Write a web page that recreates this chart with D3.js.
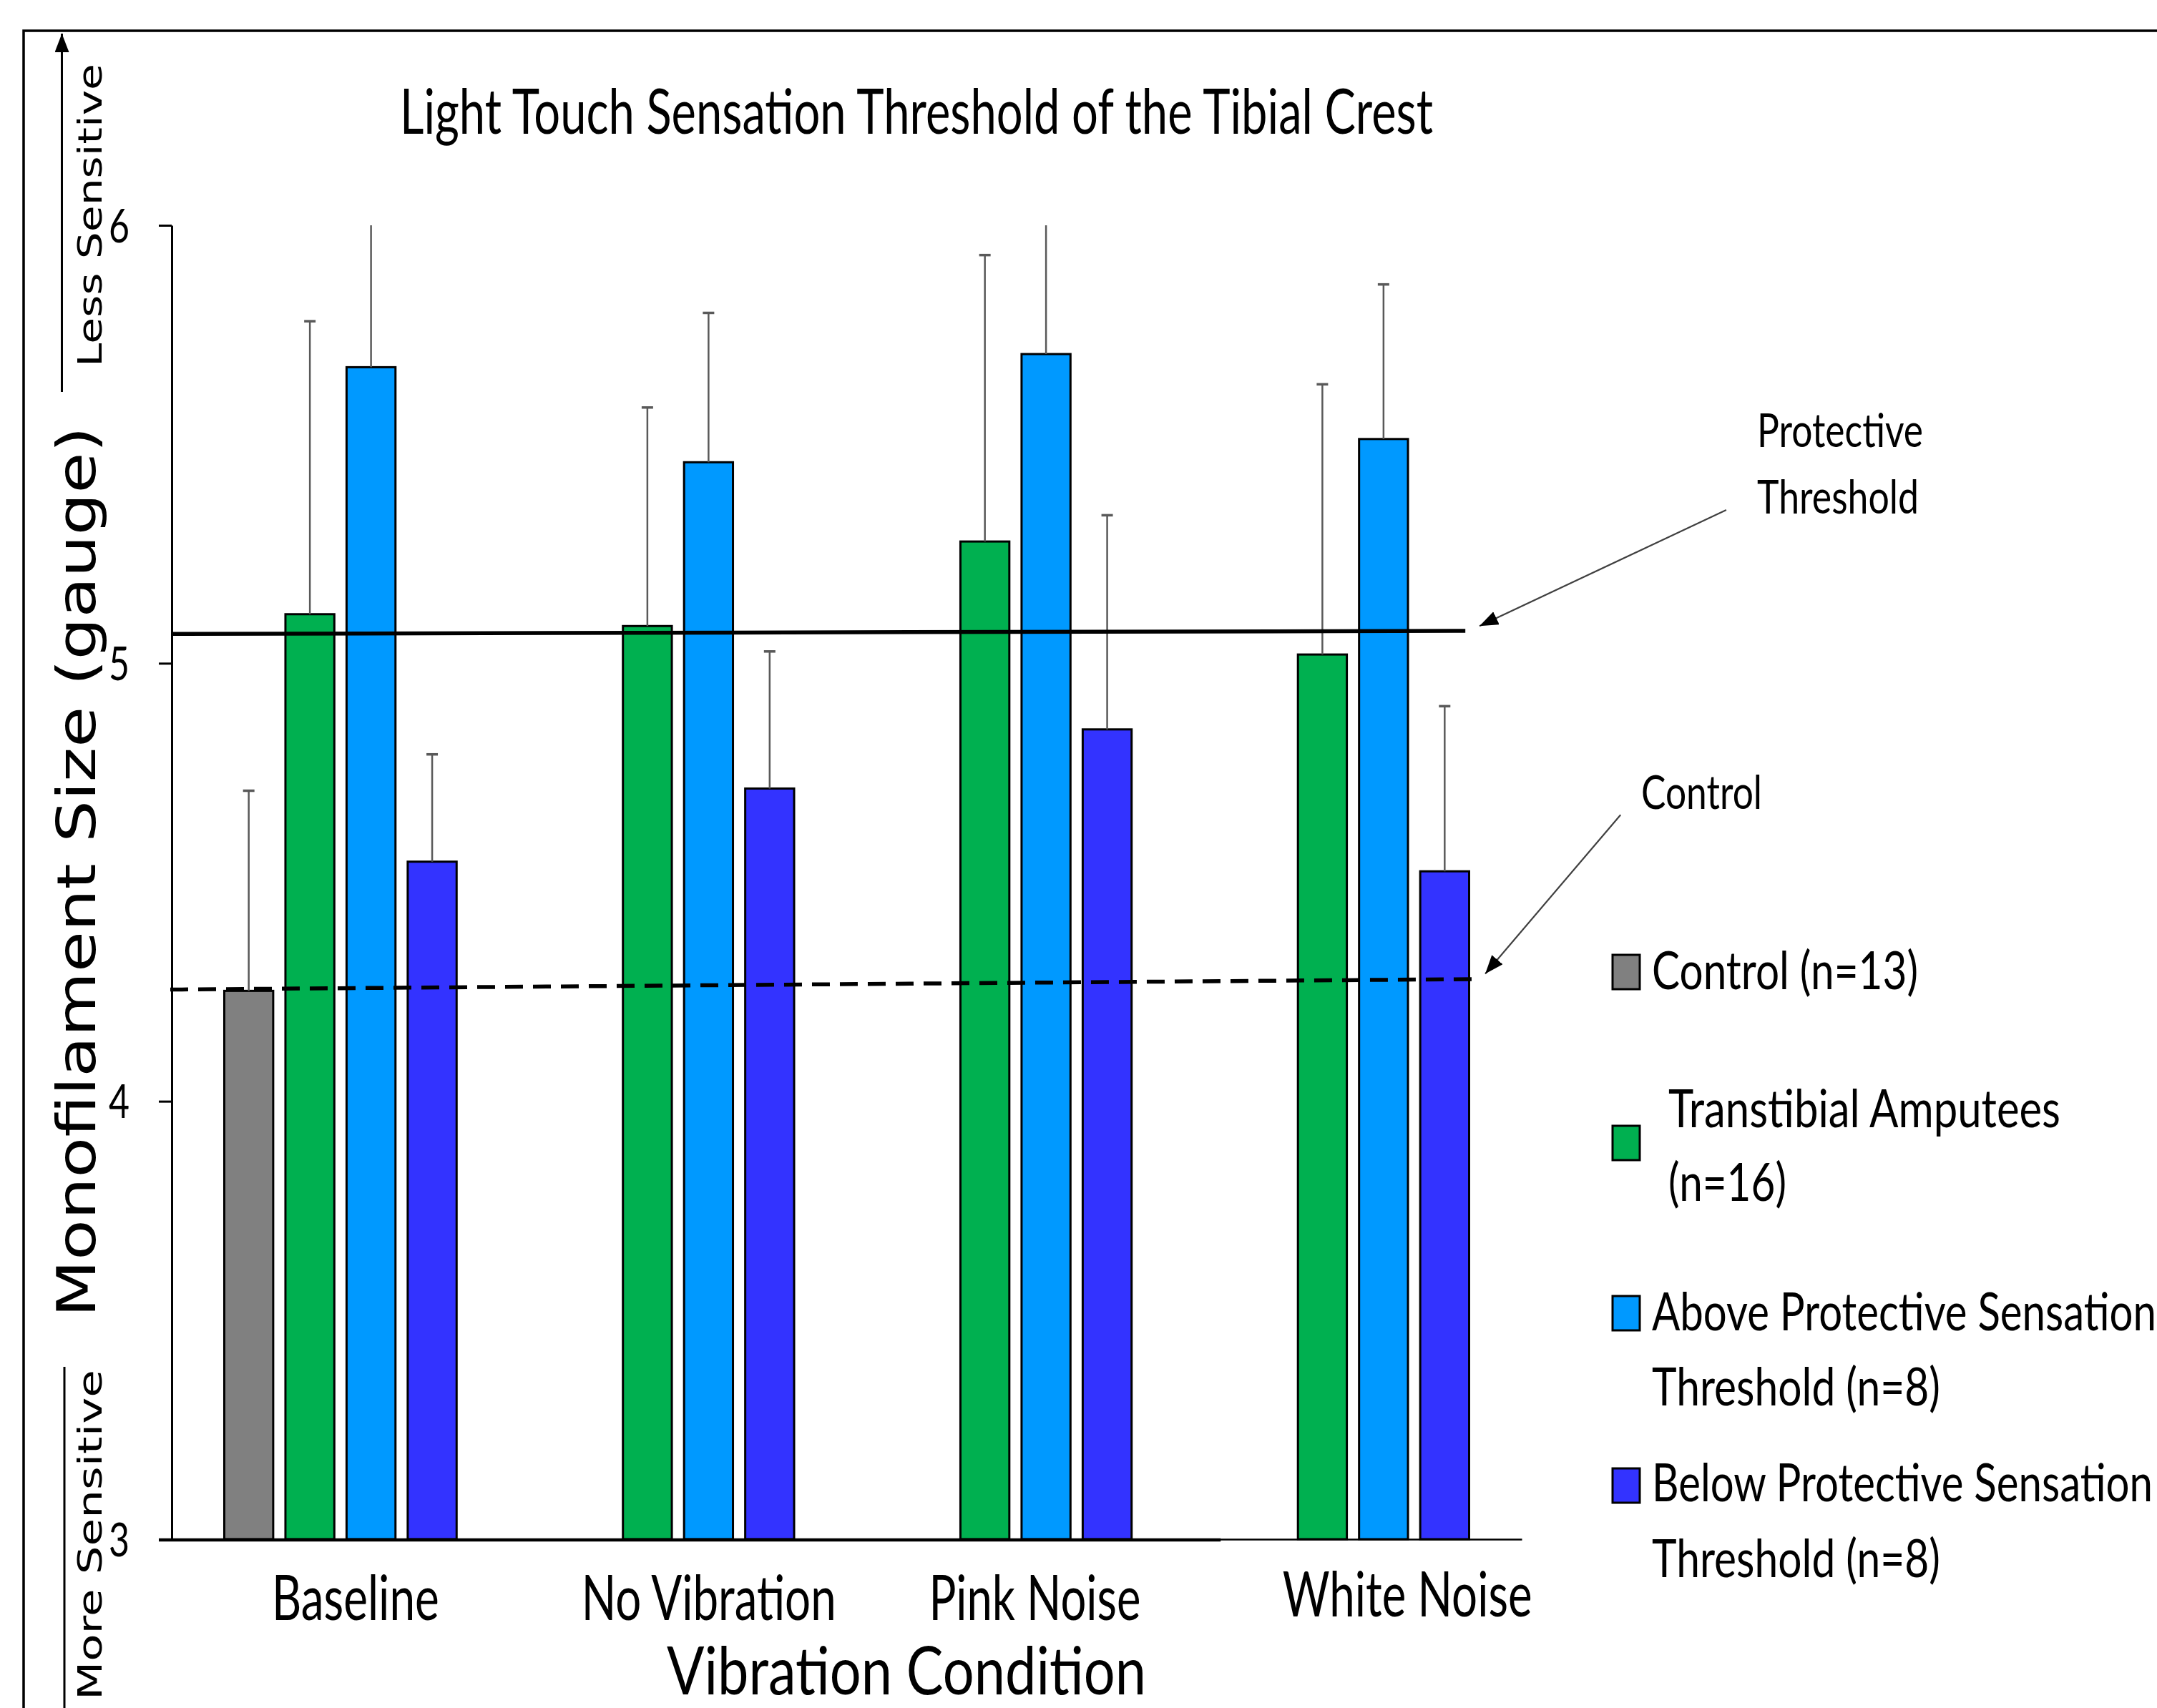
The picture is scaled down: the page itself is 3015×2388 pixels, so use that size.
<!DOCTYPE html>
<html lang="en">
<head>
<meta charset="UTF-8">
<title>Light Touch Sensation Threshold of the Tibial Crest</title>
<script src="https://d3js.org/d3.v7.min.js"></script>
<style>
  body { margin: 0; background: #fff; }
  svg { display: block; }
  .sans { font-family: Lato, "Open Sans", sans-serif; fill: #000; }
  .wide { font-family: "DejaVu Sans", Verdana, sans-serif; fill: #000; }
</style>
</head>
<body>
<svg id="chart"></svg>
<script>
// ---- data ----
const categories = ["Baseline", "No Vibration", "Pink Noise", "White Noise"];
const seriesKeys = ["control", "transtibial", "above", "below"];
const seriesLegend = [
  ["Control (n=13)"],
  ["Transtibial Amputees", "(n=16)"],
  ["Above Protective Sensation", "Threshold (n=8)"],
  ["Below Protective Sensation", "Threshold (n=8)"]
];
const controlMeans     = [4.252, null, null, null];
const transtibialMeans = [5.112, 5.085, 5.278, 5.020];
const aboveMeans       = [5.676, 5.459, 5.706, 5.512];
const belowMeans       = [4.547, 4.714, 4.849, 4.525];
const controlSD     = [0.457, null, null, null];
const transtibialSD = [0.669, 0.499, 0.654, 0.617];
const aboveSD       = [0.36, 0.341, 0.33, 0.353];
const belowSD       = [0.245, 0.313, 0.489, 0.377];
const yTicks = [3, 4, 5, 6];
// reference lines (gauge at left end, right end) and their extent in category units
const protectiveLevel = [5.067, 5.074];
const controlLevel = [4.255, 4.279];
const protectiveSpan = [0, 3.833];
const controlSpan = [0, 3.881];
// annotation arrows: [categoryUnits, gauge] from -> to
const protectiveArrow = [[4.606, 5.350], [3.875, 5.085]];
const controlArrow = [[4.293, 4.654], [3.892, 4.291]];

const colors = { control: "#808080", transtibial: "#00B050", above: "#0099FF", below: "#3333FF" };
const means = { control: controlMeans, transtibial: transtibialMeans, above: aboveMeans, below: belowMeans };
const sds = { control: controlSD, transtibial: transtibialSD, above: aboveSD, below: belowSD };

// ---- layout ----
const W = 3015, H = 2388;
const plot = { left: 240, right: 2127, top: 315, bottom: 2152 };

const svg = d3.select("#chart").attr("width", W).attr("height", H);
svg.append("rect").attr("width", W).attr("height", H).attr("fill", "#fff");

// stretch text to the widths measured on the figure
function fit(sel, len) {
  sel.attr("textLength", len).attr("lengthAdjust", "spacingAndGlyphs");
  return sel;
}

const defs = svg.append("defs");
defs.append("clipPath").attr("id", "plotClip")
  .append("rect").attr("x", 0).attr("y", plot.top).attr("width", W).attr("height", plot.bottom - plot.top);
defs.append("marker").attr("id", "head")
  .attr("markerUnits", "userSpaceOnUse")
  .attr("markerWidth", 30).attr("markerHeight", 24)
  .attr("refX", 26).attr("refY", 10).attr("orient", "auto")
  .append("path").attr("d", "M0,0 L26,10 L0,20 Z").attr("fill", "#000");

// outer frame (cut by the picture edge on the right and bottom)
svg.append("rect").attr("x", 33).attr("y", 43).attr("width", 3200).attr("height", 2600)
  .attr("fill", "none").attr("stroke", "#000").attr("stroke-width", 3.5);

const x0 = d3.scaleBand().domain(categories).range([plot.left, plot.right]);
const x1 = d3.scaleBand().domain(seriesKeys).range([0, x0.bandwidth()])
  .paddingInner(0.2).paddingOuter(0.86);
const xLin = d3.scaleLinear().domain([0, categories.length]).range([plot.left, plot.right]);
const y = d3.scaleLinear().domain([3, 6]).range([plot.bottom, plot.top]);

// ---- bars ----
const rows = [];
categories.forEach((c, i) => {
  seriesKeys.forEach(k => {
    if (means[k][i] != null) rows.push({ category: c, key: k, mean: means[k][i], sd: sds[k][i] });
  });
});

svg.append("g").selectAll("rect").data(rows).join("rect")
  .attr("x", d => x0(d.category) + x1(d.key))
  .attr("y", d => y(d.mean))
  .attr("width", x1.bandwidth())
  .attr("height", d => y(3) - y(d.mean))
  .attr("fill", d => colors[d.key])
  .attr("stroke", "#000").attr("stroke-width", 3);

// ---- error bars (plus side only, clipped at the top of the axis) ----
const err = svg.append("g").attr("clip-path", "url(#plotClip)")
  .selectAll("g").data(rows).join("g")
  .attr("transform", d => `translate(${x0(d.category) + x1(d.key) + x1.bandwidth() / 2},0)`);
err.append("line")
  .attr("y1", d => y(d.mean)).attr("y2", d => y(d.mean + d.sd))
  .attr("stroke", "#595959").attr("stroke-width", 2.5);
err.append("line")
  .attr("x1", -8).attr("x2", 8)
  .attr("y1", d => y(d.mean + d.sd)).attr("y2", d => y(d.mean + d.sd))
  .attr("stroke", "#595959").attr("stroke-width", 3.5);

// ---- axes ----
const yAxis = svg.append("g").attr("transform", `translate(${plot.left},0)`)
  .call(d3.axisLeft(y).tickValues(yTicks).tickFormat(d3.format("d"))
    .tickSize(18).tickSizeOuter(0).tickPadding(41));
yAxis.select(".domain").attr("stroke", "#000").attr("stroke-width", 3);
yAxis.selectAll(".tick line").attr("stroke", "#000").attr("stroke-width", 3);
yAxis.selectAll(".tick text").attr("class", "sans").attr("font-size", 66).attr("dy", "0.35em")
  .each(function () { fit(d3.select(this), 29); });

const xAxis = svg.append("g").attr("transform", `translate(0,${plot.bottom})`)
  .call(d3.axisBottom(x0).tickSize(0).tickSizeOuter(0));
xAxis.select(".domain").attr("stroke", "#000").attr("stroke-width", 2.5);
const catWidths = { "Baseline": 234, "No Vibration": 356, "Pink Noise": 296, "White Noise": 349 };
const catNudge = { "Baseline": 21, "No Vibration": 43, "Pink Noise": 27, "White Noise": 76 };
const catBaseline = { "Baseline": 113, "No Vibration": 113, "Pink Noise": 113, "White Noise": 108 };
xAxis.selectAll(".tick text").attr("class", "sans").attr("font-size", 88)
  .attr("dy", null)
  .attr("y", d => catBaseline[d])
  .attr("x", d => catNudge[d])
  .each(function (d) { fit(d3.select(this), catWidths[d]); });
// heavier stretch of the baseline seen on the left part of the figure
svg.append("line").attr("x1", plot.left - 18).attr("x2", xLin(3.108))
  .attr("y1", plot.bottom + 1).attr("y2", plot.bottom + 1)
  .attr("stroke", "#000").attr("stroke-width", 4.5);

// ---- reference lines ----
svg.append("line")
  .attr("x1", xLin(protectiveSpan[0])).attr("x2", xLin(protectiveSpan[1]))
  .attr("y1", y(protectiveLevel[0])).attr("y2", y(protectiveLevel[1]))
  .attr("stroke", "#000").attr("stroke-width", 5.5);
svg.append("line")
  .attr("x1", xLin(controlSpan[0]) - 2).attr("x2", xLin(controlSpan[1]))
  .attr("y1", y(controlLevel[0])).attr("y2", y(controlLevel[1]))
  .attr("stroke", "#000").attr("stroke-width", 5.5).attr("stroke-dasharray", "25,14");

// ---- annotation arrows ----
[protectiveArrow, controlArrow].forEach(a => {
  svg.append("line")
    .attr("x1", xLin(a[0][0])).attr("y1", y(a[0][1]))
    .attr("x2", xLin(a[1][0])).attr("y2", y(a[1][1]))
    .attr("stroke", "#404040").attr("stroke-width", 2.2)
    .attr("marker-end", "url(#head)");
});
fit(svg.append("text").attr("class", "sans").attr("font-size", 66)
  .attr("x", 2456).attr("y", 625).text("Protective"), 232);
fit(svg.append("text").attr("class", "sans").attr("font-size", 66)
  .attr("x", 2456).attr("y", 718).text("Threshold"), 226);
fit(svg.append("text").attr("class", "sans").attr("font-size", 66)
  .attr("x", 2294).attr("y", 1131).text("Control"), 169);

// ---- titles ----
fit(svg.append("text").attr("class", "sans").attr("font-size", 88)
  .attr("text-anchor", "middle").attr("x", 1281).attr("y", 187)
  .text("Light Touch Sensation Threshold of the Tibial Crest"), 1444);
fit(svg.append("text").attr("class", "sans").attr("font-size", 94)
  .attr("text-anchor", "middle").attr("x", 1267).attr("y", 2369)
  .text("Vibration Condition"), 670);
fit(svg.append("text").attr("class", "wide").attr("font-size", 74)
  .attr("text-anchor", "middle").attr("transform", "translate(133,1219) rotate(-90)")
  .text("Monofilament Size (gauge)"), 1245);

// sensitivity direction hints
fit(svg.append("text").attr("class", "wide").attr("font-size", 47)
  .attr("text-anchor", "middle").attr("transform", "translate(142,301) rotate(-90)")
  .text("Less Sensitive"), 424);
fit(svg.append("text").attr("class", "wide").attr("font-size", 47)
  .attr("text-anchor", "middle").attr("transform", "translate(142,2146) rotate(-90)")
  .text("More Sensitive"), 462);
svg.append("line").attr("x1", 86.5).attr("x2", 86.5).attr("y1", 548).attr("y2", 47)
  .attr("stroke", "#000").attr("stroke-width", 3).attr("marker-end", "url(#head)");
svg.append("line").attr("x1", 90).attr("x2", 90).attr("y1", 1911).attr("y2", 2440)
  .attr("stroke", "#000").attr("stroke-width", 3).attr("marker-end", "url(#head)");

// ---- legend ----
const legendSwatchX = 2254;
const legendTops = [1335, 1574, 1812, 2053];
const legendTextX = [2309, 2332, 2309, 2309];
const legendBaselines = [[1383], [1576, 1679], [1860, 1965], [2099, 2205]];
const legendWidths = {
  "Control (n=13)": 372, "Transtibial Amputees": 548, "(n=16)": 165,
  "Above Protective Sensation": 705, "Below Protective Sensation": 700, "Threshold (n=8)": 403
};
const legend = svg.append("g");
seriesKeys.forEach((k, i) => {
  legend.append("rect").attr("x", legendSwatchX).attr("y", legendTops[i])
    .attr("width", 38).attr("height", 48)
    .attr("fill", colors[k]).attr("stroke", "#000").attr("stroke-width", 3);
  seriesLegend[i].forEach((line, j) => {
    fit(legend.append("text").attr("class", "sans").attr("font-size", 74)
      .attr("x", legendTextX[i]).attr("y", legendBaselines[i][j]).text(line), legendWidths[line]);
  });
});
</script>
</body>
</html>
